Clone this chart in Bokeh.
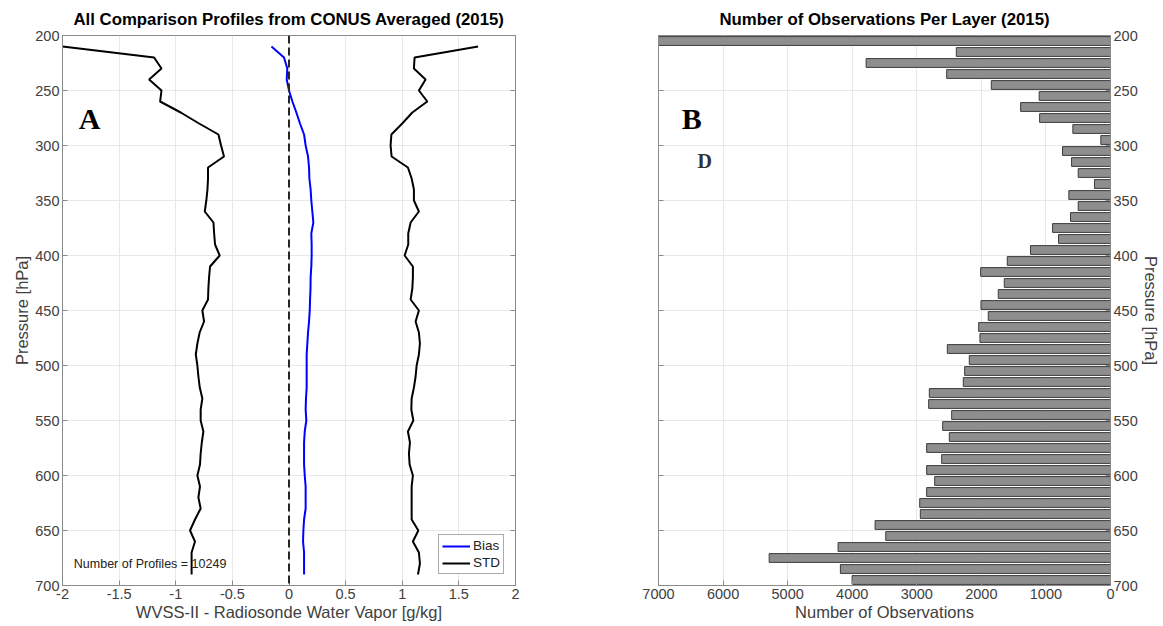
from bokeh.plotting import figure
from bokeh.layouts import row
from bokeh.models import (Range1d, FixedTicker, Label, CustomJSTickFormatter, Span,
                          Legend, LegendItem, LinearAxis)
from bokeh.embed import file_html
from bokeh.resources import INLINE

# ---------------- data ----------------
levels = [210, 220, 230, 240, 250, 260, 270, 280, 290, 300,
          310, 320, 330, 340, 350, 360, 370, 380, 390, 400,
          410, 420, 430, 440, 450, 460, 470, 480, 490, 500,
          510, 520, 530, 540, 550, 560, 570, 580, 590, 600,
          610, 620, 630, 640, 650, 660, 670, 680, 690]

bias = [-0.155, -0.044, -0.015, -0.020, 0.000, 0.030, 0.065, 0.097, 0.133, 0.147,
        0.168, 0.177, 0.180, 0.191, 0.197, 0.206, 0.215, 0.197, 0.200, 0.200,
        0.197, 0.191, 0.190, 0.186, 0.183, 0.177, 0.168, 0.162, 0.156, 0.156,
        0.156, 0.156, 0.150, 0.147, 0.153, 0.139, 0.133, 0.133, 0.133, 0.139,
        0.147, 0.147, 0.147, 0.133, 0.127, 0.124, 0.133, 0.133, 0.133]

std_low = [-2.000, -1.191, -1.126, -1.235, -1.126, -1.138, -0.956, -0.794, -0.623, -0.600,
           -0.574, -0.715, -0.715, -0.720, -0.730, -0.744, -0.667, -0.661, -0.653, -0.612,
           -0.697, -0.706, -0.712, -0.715, -0.765, -0.750, -0.789, -0.809, -0.823, -0.809,
           -0.800, -0.788, -0.765, -0.780, -0.780, -0.756, -0.770, -0.780, -0.786, -0.809,
           -0.786, -0.800, -0.780, -0.830, -0.874, -0.830, -0.860, -0.860, -0.860]

std_high = [1.670, 1.109, 1.103, 1.206, 1.147, 1.221, 1.089, 1.000, 0.904, 0.897,
            0.906, 1.050, 1.083, 1.103, 1.103, 1.147, 1.074, 1.053, 1.053, 1.021,
            1.094, 1.094, 1.089, 1.074, 1.147, 1.118, 1.147, 1.156, 1.147, 1.127,
            1.118, 1.103, 1.083, 1.080, 1.098, 1.050, 1.068, 1.059, 1.065, 1.094,
            1.083, 1.083, 1.083, 1.083, 1.142, 1.094, 1.147, 1.156, 1.139]

layer_centers = [205, 215, 225, 235, 245, 255, 265, 275, 285, 295,
                 305, 315, 325, 335, 345, 355, 365, 375, 385, 395,
                 405, 415, 425, 435, 445, 455, 465, 475, 485, 495,
                 505, 515, 525, 535, 545, 555, 565, 575, 585, 595,
                 605, 615, 625, 635, 645, 655, 665, 675, 685, 695]

obs_counts = [7000, 2388, 3785, 2537, 1846, 1104, 1392, 1098, 583, 150,
              743, 603, 500, 248, 645, 500, 619, 897, 805, 1238,
              1599, 2011, 1645, 1738, 2006, 1893, 2042, 2022, 2527, 2187,
              2259, 2280, 2806, 2816, 2460, 2599, 2496, 2847, 2615, 2847,
              2723, 2847, 2955, 2945, 3646, 3481, 4219, 5286, 4183, 4002]

pressure_ticks = [200, 250, 300, 350, 400, 450, 500, 550, 600, 650, 700]
wv_ticks = [-2, -1.5, -1, -0.5, 0, 0.5, 1, 1.5, 2]
obs_ticks = [0, 1000, 2000, 3000, 4000, 5000, 6000, 7000]
n_profiles = 10249

FONT = "Liberation Sans"
TICK_COLOR = "#404040"
AXIS_COLOR = "#8a8a8a"
GRID_COLOR = "#e8e8e8"


def style_axis(ax):
    ax.axis_line_color = AXIS_COLOR
    ax.major_tick_line_color = AXIS_COLOR
    ax.major_tick_in = 5
    ax.major_tick_out = 0
    ax.minor_tick_line_color = None
    ax.major_label_text_font = FONT
    ax.major_label_text_font_size = "14.5px"
    ax.major_label_text_color = TICK_COLOR
    ax.axis_label_text_font = FONT
    ax.axis_label_text_font_size = "16.5px"
    ax.axis_label_text_font_style = "normal"
    ax.axis_label_text_color = TICK_COLOR
    ax.major_label_standoff = 3
    ax.axis_label_standoff = 1


def style(p, title):
    p.background_fill_color = "white"
    p.border_fill_color = "white"
    p.outline_line_color = AXIS_COLOR
    p.outline_line_width = 1
    p.title.text = title
    p.title.text_font = FONT
    p.title.text_font_size = "16.8px"
    p.title.text_font_style = "bold"
    p.title.text_color = "black"
    p.title.align = "center"
    p.title.vertical_align = "top"
    p.title.standoff = 10
    for ax in p.axis:
        style_axis(ax)
    for g in p.grid:
        g.grid_line_color = GRID_COLOR
        g.grid_line_width = 1


def add_box_axis(p, side, ticks):
    ax = LinearAxis(ticker=FixedTicker(ticks=ticks),
                    formatter=CustomJSTickFormatter(code="return '';"))
    style_axis(ax)
    ax.major_label_standoff = 0
    p.add_layout(ax, side)


# ---------------- left panel ----------------
p1 = figure(frame_width=453, frame_height=550,
            min_border_left=62, min_border_right=85, min_border_top=35, min_border_bottom=41,
            x_range=Range1d(-2, 2), y_range=Range1d(700, 200),
            output_backend="svg", toolbar_location=None)
p1.xaxis.ticker = FixedTicker(ticks=wv_ticks)
p1.yaxis.ticker = FixedTicker(ticks=pressure_ticks)
p1.xaxis.formatter = CustomJSTickFormatter(code="return tick.toString();")
p1.xaxis.axis_label = "WVSS-II - Radiosonde Water Vapor [g/kg]"
p1.yaxis.axis_label = "Pressure [hPa]"
style(p1, "All Comparison Profiles from CONUS Averaged (2015)")
add_box_axis(p1, "right", pressure_ticks)

p1.add_layout(Span(location=0, dimension="height", line_color="#262626",
                   line_width=2, line_dash="8 4"))

r_lo = p1.line(std_low, levels, line_color="black", line_width=2)
r_hi = p1.line(std_high, levels, line_color="black", line_width=2)
r_b = p1.line(bias, levels, line_color="#0000ff", line_width=2)

leg = Legend(items=[LegendItem(label="Bias", renderers=[r_b]),
                    LegendItem(label="STD", renderers=[r_lo])],
             location="bottom_right")
leg.label_text_font = FONT
leg.label_text_font_size = "13.5px"
leg.label_text_color = "#222222"
leg.glyph_width = 28
leg.glyph_height = 14
leg.label_height = 14
leg.label_standoff = 3
leg.padding = 3
leg.spacing = 2
leg.margin = 11
leg.border_line_color = "#555555"
leg.border_line_width = 1
leg.background_fill_alpha = 1
p1.add_layout(leg)

p1.add_layout(Label(x=-1.9, y=680, text=f"Number of Profiles = {n_profiles}",
                    text_font=FONT, text_font_size="12.5px", text_color="#222222",
                    text_baseline="middle", text_align="left"))
p1.add_layout(Label(x=-1.76, y=275, text="A", text_font="Liberation Serif",
                    text_font_size="30px", text_font_style="bold", text_color="black",
                    text_baseline="middle", text_align="center"))

# ---------------- right panel ----------------
p2 = figure(frame_width=452, frame_height=550,
            min_border_left=58, min_border_right=53, min_border_top=35, min_border_bottom=41,
            x_range=Range1d(7000, 0), y_range=Range1d(700, 200),
            y_axis_location="right",
            output_backend="svg", toolbar_location=None)
p2.xaxis.ticker = FixedTicker(ticks=obs_ticks)
p2.yaxis.ticker = FixedTicker(ticks=pressure_ticks)
p2.xaxis.axis_label = "Number of Observations"
p2.yaxis.axis_label = "Pressure [hPa]"
style(p2, "Number of Observations Per Layer (2015)")
add_box_axis(p2, "left", pressure_ticks)

p2.hbar(y=layer_centers, left=0, right=obs_counts, height=8,
        fill_color="#8e8e8e", line_color="#3c3c3c", line_width=1)

p2.add_layout(Label(x=6486, y=275, text="B", text_font="Liberation Serif",
                    text_font_size="30px", text_font_style="bold", text_color="black",
                    text_baseline="middle", text_align="center"))
p2.add_layout(Label(x=6284, y=314, text="D", text_font="Liberation Serif",
                    text_font_size="20px", text_font_style="bold", text_color="#333333",
                    text_baseline="middle", text_align="center"))

layout = row(p1, p2)
open("out.html", "w").write(file_html(layout, INLINE))
